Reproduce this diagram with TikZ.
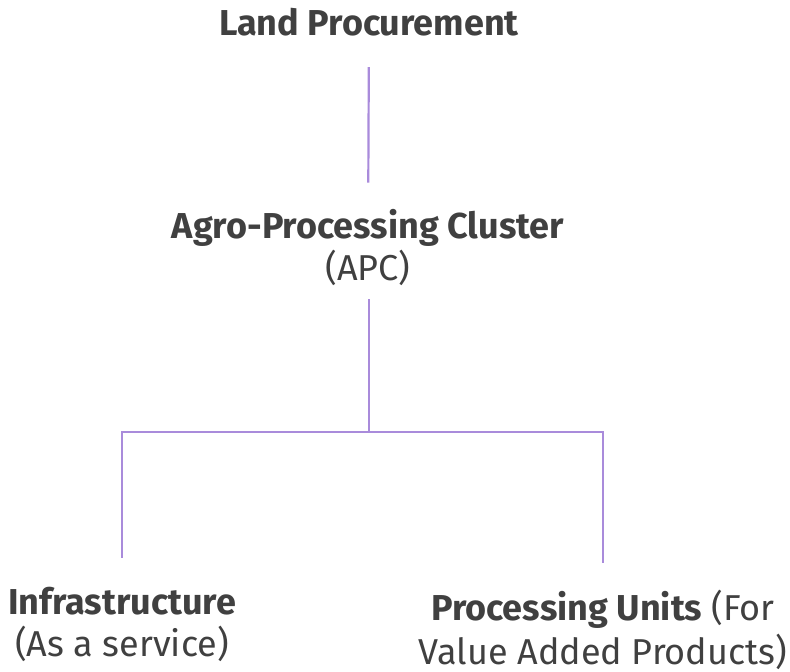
\documentclass[tikz,border=0pt]{standalone}
\usepackage{fontspec}
\setmainfont{Fira Sans}
\definecolor{txtgray}{HTML}{404040}
\definecolor{lav}{HTML}{A98BDB}
\tikzset{
  lbl/.style={align=center,text=txtgray,inner sep=0pt,font=\fontsize{36}{42}\selectfont},
  link/.style={draw=lav,line width=2.2pt}
}
\begin{document}
\begin{tikzpicture}[x=1pt,y=-1pt]
    \useasboundingbox (0,0) rectangle (790,672);
    \node[lbl] (land) at (369,22) {\textbf{Land Procurement}};
    \node[lbl] (apc) at (368,248) {\textbf{Agro-Processing Cluster}\\(APC)};
    \node[lbl] (infra) at (122,624) {\textbf{Infrastructure}\\(As a service)};
    \node[lbl,font=\fontsize{36}{44}\selectfont] (units) at (603,630) {\textbf{Processing Units} (For\\Value Added Products)};
    \coordinate (split) at (369,432);
    \draw[link,shorten <=31pt,shorten >=27pt] (land) -- (apc);
    \draw[link,shorten <=13pt] (apc.south -| split) -- (split);
    \draw[link,shorten >=29pt] (split) -| (infra.north);
    \draw[link,shorten >=27pt] (split) -| (units.north);
\end{tikzpicture}
\end{document}
